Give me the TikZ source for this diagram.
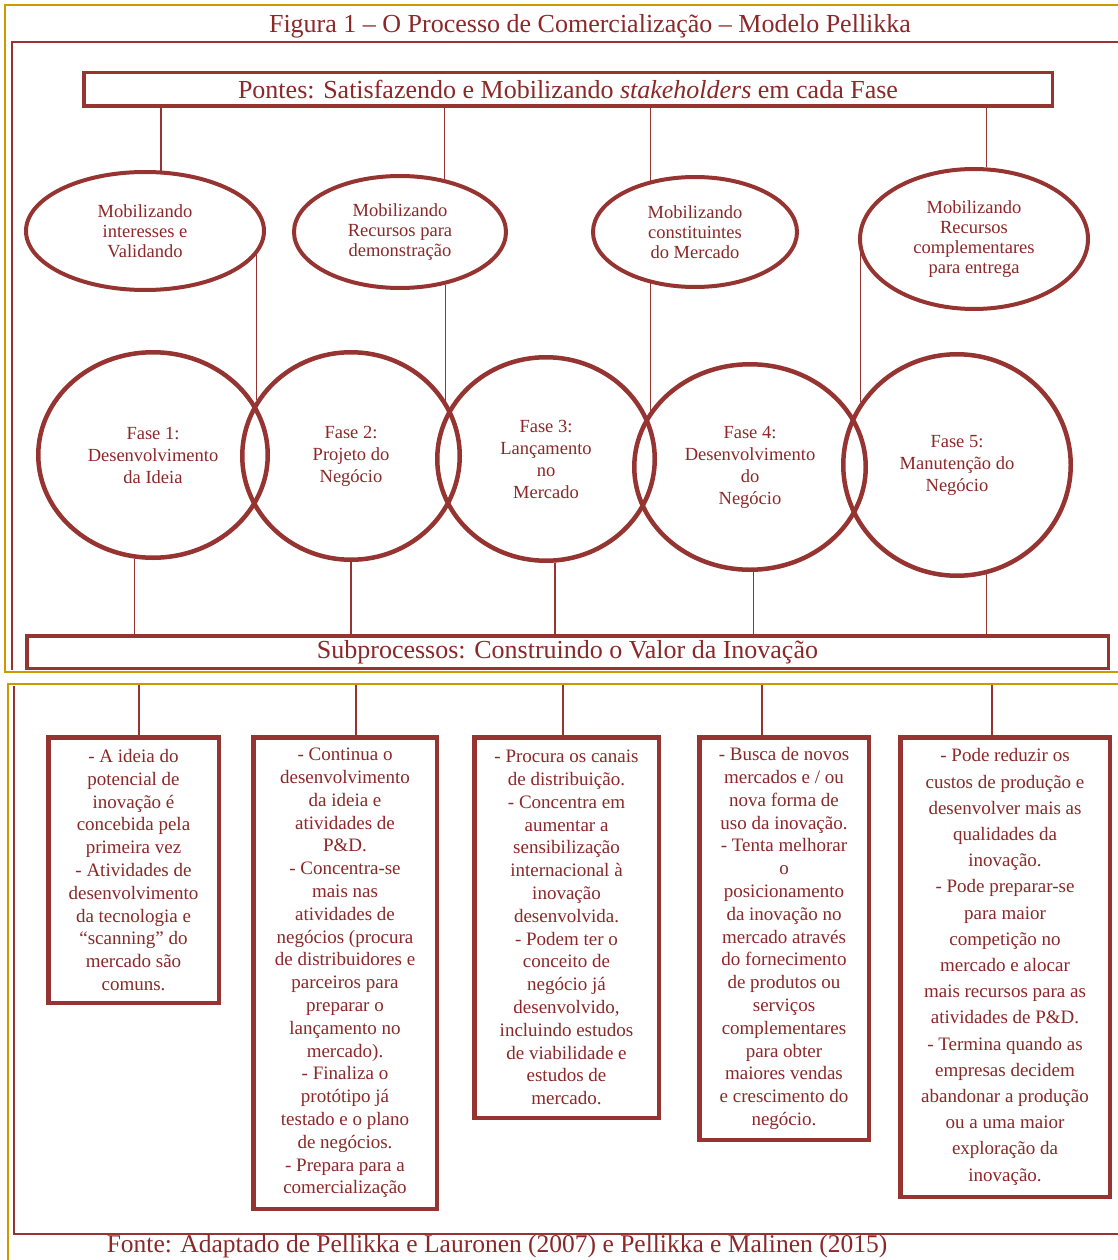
\documentclass[tikz,border=0pt]{standalone}
\usepackage{fontspec}
\setmainfont{Liberation Serif}
\usetikzlibrary{shapes.geometric}
\definecolor{wine}{RGB}{150,52,50}
\definecolor{ink}{RGB}{140,40,40}
\definecolor{gold}{RGB}{204,153,0}

\begin{document}
\begin{tikzpicture}[x=1pt,y=-1pt,
  frame/.style={gold, line width=1.6},
  rule/.style={wine, line width=1.2},
  link/.style={wine, line width=1.4},
  banner/.style={draw=wine, line width=3.5, inner sep=0, text=ink,
    font=\fontsize{26}{30}\selectfont},
  oval/.style={ellipse, draw=wine, line width=4, inner sep=0, text=ink,
    align=center, font=\fontsize{18.5}{20}\selectfont},
  phase/.style={ellipse, draw=wine, line width=4.5, inner sep=0, text=ink,
    align=center, font=\fontsize{18.5}{22}\selectfont},
  note/.style={draw=wine, line width=4.5, inner sep=0, text=ink,
    align=center, font=\fontsize{19}{22.8}\selectfont},
  caption/.style={text=ink, inner sep=0, font=\fontsize{26}{30}\selectfont},
]
\useasboundingbox (0,0) rectangle (1118,1260);
\fill[white] (0,0) rectangle (1118,1260);

% panel frames
\draw[frame] (1118,5) -- (5,5) -- (5,672) -- (1118,672);
\draw[rule] (1118,42) -- (12,42) -- (12,670);
\draw[frame] (1118,684) -- (8,684) -- (8,1260);
\draw[rule] (14,686) -- (14,1234) -- (1118,1234);

% title and source
\node[caption, anchor=base] (title) at (590,33)
  {Figura 1 -- O Processo de Comercialização -- Modelo Pellikka};
\node[caption, anchor=base, font=\fontsize{25.5}{30}\selectfont] (fonte) at (497,1252)
  {Fonte: Adaptado de Pellikka e Lauronen (2007) e Pellikka e Malinen (2015)};

% bridges banner
\node[banner, minimum width=968.5, minimum height=33.5] (pontes) at (568,89.5)
  {Pontes: Satisfazendo e Mobilizando \textit{stakeholders} em cada Fase};

% stakeholder ovals
\node[oval, minimum width=238, minimum height=118] (e1) at (145,231)
  {Mobilizando\\interesses e\\Validando};
\node[oval, minimum width=212, minimum height=112] (e2) at (400,232)
  {Mobilizando\\Recursos para\\demonstração};
\node[oval, minimum width=204, minimum height=110] (e3) at (695,232)
  {Mobilizando\\constituintes\\do Mercado};
\node[oval, minimum width=228, minimum height=140] (e4) at (974,239)
  {Mobilizando\\Recursos\\complementares\\para entrega};

% phases
\node[phase, minimum width=229.5, minimum height=205.5] (c1) at (153,455)
  {Fase 1:\\Desenvolvimento\\da Ideia};
\node[phase, minimum width=217.5, minimum height=207.5] (c2) at (351,456)
  {Fase 2:\\Projeto do\\Negócio};
\node[phase, minimum width=217.5, minimum height=203.5] (c3) at (546,459)
  {Fase 3:\\Lançamento\\no\\Mercado};
\node[phase, minimum width=231.5, minimum height=205.5] (c4) at (750,467)
  {Fase 4:\\Desenvolvimento\\do\\Negócio};
\node[phase, minimum width=227.5, minimum height=221.5] (c5) at (957,465)
  {Fase 5:\\Manutenção do\\Negócio};

% subprocess banner
\node[banner, minimum width=1081.5, minimum height=32.5] (sub) at (567.5,652)
  {Subprocessos: Construindo o Valor da Inovação};

% subprocess descriptions
\node[note, minimum width=170.5, minimum height=265.5] (b1) at (133.5,870)
  {- A ideia do\\potencial de\\inovação é\\concebida pela\\primeira vez\\- Atividades de\\desenvolvimento\\da tecnologia e\\“scanning” do\\mercado são\\comuns.};
\node[note, minimum width=183.5, minimum height=471.5] (b2) at (345,973)
  {- Continua o\\desenvolvimento\\da ideia e\\atividades de\\P\&D.\\- Concentra-se\\mais nas\\atividades de\\negócios (procura\\de distribuidores e\\parceiros para\\preparar o\\lançamento no\\mercado).\\- Finaliza o\\protótipo já\\testado e o plano\\de negócios.\\- Prepara para a\\comercialização};
\node[note, minimum width=184.5, minimum height=380.5] (b3) at (566.5,927.5)
  {- Procura os canais\\de distribuição.\\- Concentra em\\aumentar a\\sensibilização\\internacional à\\inovação\\desenvolvida.\\- Podem ter o\\conceito de\\negócio já\\desenvolvido,\\incluindo estudos\\de viabilidade e\\estudos de\\mercado.};
\node[note, minimum width=169.5, minimum height=402.5] (b4) at (784,938.5)
  {- Busca de novos\\mercados e / ou\\nova forma de\\uso da inovação.\\- Tenta melhorar\\o\\posicionamento\\da inovação no\\mercado através\\do fornecimento\\de produtos ou\\serviços\\complementares\\para obter\\maiores vendas\\e crescimento do\\negócio.};
\node[note, minimum width=209.5, minimum height=459.5,
      font=\fontsize{19}{26.2}\selectfont] (b5) at (1005,967)
  {- Pode reduzir os\\custos de produção e\\desenvolver mais as\\qualidades da\\inovação.\\- Pode preparar-se\\para maior\\competição no\\mercado e alocar\\mais recursos para as\\atividades de P\&D.\\- Termina quando as\\empresas decidem\\abandonar a produção\\ou a uma maior\\exploração da\\inovação.};

% banner to ovals
\draw[link] (e1.75) -- (e1.75 |- pontes.south);
\draw[link] (e2.50) -- (e2.50 |- pontes.south);
\draw[link] (e3.131) -- (e3.131 |- pontes.south);
\draw[link] (e4.80) -- (e4.80 |- pontes.south);

% ovals to phase junctions
\draw[link] (e1.348) -- (e1.348 |- c2.149);
\draw[link] (e2.311) -- (e2.311 |- c2.30);
\draw[link] (e3.229) -- (e3.229 |- c4.151);
\draw[link] (e4.187) -- (e4.187 |- c5.147);

% phases to subprocess banner
\draw[link] (c1.260) -- (c1.260 |- sub.north);
\draw[link] (c2.south) -- (c2.south |- sub.north);
\draw[link] (c3.275) -- (c3.275 |- sub.north);
\draw[link] (c4.272) -- (c4.272 |- sub.north);
\draw[link] (c5.285) -- (c5.285 |- sub.north);

% lower panel to descriptions
\coordinate (d1) at (139,685);
\coordinate (d2) at (356,685);
\coordinate (d3) at (563,685);
\coordinate (d4) at (762,685);
\coordinate (d5) at (992,685);
\draw[link] (d1) -- (d1 |- b1.north);
\draw[link] (d2) -- (d2 |- b2.north);
\draw[link] (d3) -- (d3 |- b3.north);
\draw[link] (d4) -- (d4 |- b4.north);
\draw[link] (d5) -- (d5 |- b5.north);
\end{tikzpicture}
\end{document}
